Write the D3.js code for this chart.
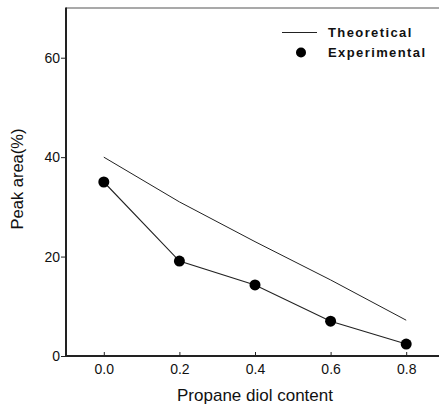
<!DOCTYPE html>
<html>
<head>
<meta charset="utf-8">
<script src="https://cdn.jsdelivr.net/npm/d3@7"></script>
<style>
  html, body { margin: 0; padding: 0; background: #fff; }
  svg { display: block; }
  text { font-family: "Liberation Sans", Arial, sans-serif; fill: #111; }
</style>
</head>
<body>
<svg id="chart" width="439" height="405"></svg>
<script>
// Propane diol content (x) and peak area (%) for each series
const contents = [0.0, 0.2, 0.4, 0.6, 0.8];
const theoretical = [40, 31, 23, 15.3, 7.2];
const experimental = [35, 19.1, 14.3, 7.0, 2.4];
const xTicks = [0.0, 0.2, 0.4, 0.6, 0.8];
const yTicks = [0, 20, 40, 60];
const seriesNames = ["Theoretical", "Experimental"];

const svg = d3.select("#chart");
const plotLeft = 66, plotTop = 8, plotBottom = 356;

const x = d3.scaleLinear().domain([-0.1, 0.9]).range([plotLeft, plotLeft + 378]);
const y = d3.scaleLinear().domain([0, 70]).range([plotBottom, plotTop]);

// frame: top border, left and bottom axis lines
svg.append("line").attr("x1", plotLeft).attr("x2", 439).attr("y1", plotTop).attr("y2", plotTop)
  .attr("stroke", "#555").attr("stroke-width", 1.2);
svg.append("line").attr("x1", plotLeft).attr("x2", plotLeft).attr("y1", plotTop - 0.5).attr("y2", plotBottom + 1)
  .attr("stroke", "#222").attr("stroke-width", 2);
svg.append("line").attr("x1", plotLeft).attr("x2", 439).attr("y1", plotBottom).attr("y2", plotBottom)
  .attr("stroke", "#222").attr("stroke-width", 2);

// y axis: ticks point outward
const yAxis = d3.axisLeft(y).tickValues(yTicks).tickFormat(d3.format("d"))
  .tickSize(5).tickPadding(1);
const gy = svg.append("g").attr("transform", `translate(${plotLeft},0)`).call(yAxis);
gy.select(".domain").remove();
gy.selectAll(".tick line").attr("stroke", "#222");
gy.selectAll(".tick text").style("font-size", "14px").attr("fill", "#111")
  .style("font-family", "'Liberation Sans', Arial, sans-serif");

// x axis: ticks point inward (up)
const xAxis = d3.axisBottom(x).tickValues(xTicks).tickFormat(d3.format(".1f"))
  .tickSize(-4).tickPadding(8.5);
const gx = svg.append("g").attr("transform", `translate(0,${plotBottom})`).call(xAxis);
gx.select(".domain").remove();
gx.selectAll(".tick line").attr("stroke", "#222");
gx.selectAll(".tick text").style("font-size", "14px").attr("fill", "#111")
  .style("font-family", "'Liberation Sans', Arial, sans-serif");

// axis titles
svg.append("text").attr("x", 255).attr("y", 400.5).attr("text-anchor", "middle")
  .style("font-size", "17px").text("Propane diol content");
svg.append("text").attr("transform", "translate(23,179) rotate(-90)")
  .attr("text-anchor", "middle").style("font-size", "16.5px").text("Peak area(%)");

const line = d3.line().x((d, i) => x(contents[i])).y(d => y(d));

// theoretical series: plain line
svg.append("path").datum(theoretical).attr("d", line)
  .attr("fill", "none").attr("stroke", "#222").attr("stroke-width", 1);

// experimental series: line with filled circles
svg.append("path").datum(experimental).attr("d", line)
  .attr("fill", "none").attr("stroke", "#222").attr("stroke-width", 1.1);
svg.selectAll("circle.exp").data(experimental).enter().append("circle")
  .attr("class", "exp")
  .attr("cx", (d, i) => x(contents[i])).attr("cy", d => y(d))
  .attr("r", 5.5).attr("fill", "#000");

// legend
const lg = svg.append("g");
lg.append("line").attr("x1", 282).attr("x2", 317).attr("y1", 32.5).attr("y2", 32.5)
  .attr("stroke", "#222").attr("stroke-width", 1.2);
lg.append("circle").attr("cx", 301).attr("cy", 52.5).attr("r", 5).attr("fill", "#000");
lg.selectAll("text").data(seriesNames).enter().append("text")
  .attr("x", 328).attr("y", (d, i) => 37 + i * 20)
  .style("font-size", "13px").style("font-weight", "bold").style("letter-spacing", "1.4px")
  .text(d => d);
</script>
</body>
</html>
